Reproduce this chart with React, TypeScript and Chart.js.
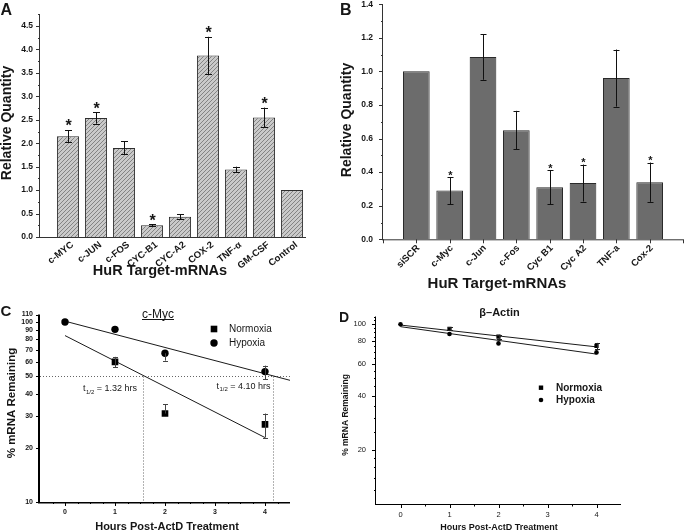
import React, { useEffect, useRef } from "react";
import { Chart, registerables } from "chart.js";

Chart.register(...registerables);

const FONT = "'Liberation Sans', Arial, Helvetica, sans-serif";
const INK = "#161616";

// ---------- Panel A data ----------
const aCategories = ["c-MYC", "c-JUN", "c-FOS", "CYC-B1", "CYC-A2", "COX-2", "TNF-\u03b1", "GM-CSF", "Control"];
const aValues = [2.15, 2.54, 1.9, 0.25, 0.43, 3.87, 1.44, 2.55, 1.0];
const aErrors = [0.13, 0.12, 0.14, 0.02, 0.05, 0.4, 0.06, 0.21, 0];
const aSignificant = [true, true, false, true, false, true, false, true, false];
const aYTicks = [0, 0.5, 1, 1.5, 2, 2.5, 3, 3.5, 4, 4.5];
const aYMinor = [0.25, 0.75, 1.25, 1.75, 2.25, 2.75, 3.25, 3.75, 4.25, 4.75];

// ---------- Panel B data ----------
const bCategories = ["siSCR", "c-Myc", "c-Jun", "c-Fos", "Cyc B1", "Cyc A2", "TNF-a", "Cox-2"];
const bValues = [1.0, 0.29, 1.085, 0.65, 0.31, 0.335, 0.96, 0.34];
const bErrors = [0, 0.08, 0.135, 0.115, 0.1, 0.11, 0.17, 0.117];
const bSignificant = [false, true, false, false, true, true, false, true];
const bYTicks = [0, 0.2, 0.4, 0.6, 0.8, 1.0, 1.2, 1.4];
const bYMinor = [0.1, 0.3, 0.5, 0.7, 0.9, 1.1, 1.3];
const bXTickMarks = [-1, 0, 1, 2, 3, 4, 5, 6, 7, 8];

// ---------- Panel C data ----------
const cNormoxiaHours = [1, 2, 4];
const cNormoxia = [60, 31, 27];
const cNormoxiaErrUp = [4, 4, 4];
const cNormoxiaErrDown = [4, 0, 4.2];
const cHypoxiaHours = [0, 1, 2, 4];
const cHypoxia = [100, 91, 67, 53];
const cHypoxiaErrUp = [0, 0, 0, 4.2];
const cHypoxiaErrDown = [0, 0, 6, 5];
const cNormoxiaFitHours = [0, 4];
const cNormoxiaFit = [84, 22.8];
const cHypoxiaFitHours = [0, 4.5];
const cHypoxiaFit = [101, 47.4];
const cHalfLifeHours = [1.55, 4.15];
const cHalfLifeLabels = ["1.32", "4.10"];
const cYTicks = [10, 20, 30, 40, 50, 60, 70, 80, 90, 100, 110];
const cYMinor = [11, 12, 13, 14, 15, 16, 17, 18, 19, 22, 24, 26, 28, 32, 34, 36, 38, 42, 44, 46, 48, 55, 65, 75, 85, 95, 105];
const cXTicks = [0, 1, 2, 3, 4];
const cXMinor = [-0.25, 0.25, 0.5, 0.75, 1.25, 1.5, 1.75, 2.25, 2.5, 2.75, 3.25, 3.5, 3.75, 4.25];

// ---------- Panel D data ----------
const dNormoxiaHours = [1, 2, 4];
const dNormoxia = [94, 85, 75.5];
const dNormoxiaErr = [2, 2, 3];
const dHypoxiaHours = [0, 1, 2, 4];
const dHypoxia = [99.5, 88, 78, 69.5];
const dNormoxiaFitHours = [0, 4];
const dNormoxiaFit = [98.6, 74.6];
const dHypoxiaFitHours = [0, 4];
const dHypoxiaFit = [96.6, 68];
const dYTicks = [20, 40, 60, 80, 100];
const dYMinor = [12, 14, 16, 18, 25, 30, 35, 45, 50, 55, 65, 70, 75, 85, 90, 95, 105, 110];
const dXTicks = [0, 1, 2, 3, 4];
const dXMinor = [0.5, 1.5, 2.5, 3.5];

type Box = { left: number; top: number; width: number; height: number };

const fixWidth = (w: number) => (s: any) => {
  s.width = w;
  s.paddingTop = 0; s.paddingBottom = 0; s.paddingLeft = 0; s.paddingRight = 0;
};
const fixHeight = (h: number) => (s: any) => {
  s.height = h;
  s.paddingTop = 0; s.paddingBottom = 0; s.paddingLeft = 0; s.paddingRight = 0;
};
const setTicks = (vals: number[]) => (s: any) => {
  s.ticks = vals.map((v) => ({ value: v }));
};

function font(size: number, bold = false) {
  return `${bold ? "bold " : ""}${size}px ${FONT}`;
}

function text(ctx: CanvasRenderingContext2D, s: string, x: number, y: number, f: string, align: CanvasTextAlign = "center", baseline: CanvasTextBaseline = "middle", rot = 0) {
  ctx.save();
  ctx.font = f;
  ctx.fillStyle = INK;
  ctx.textAlign = align;
  ctx.textBaseline = baseline;
  ctx.translate(x, y);
  if (rot) ctx.rotate(rot);
  ctx.fillText(s, 0, 0);
  ctx.restore();
}

function rotatedCategoryLabels(ctx: CanvasRenderingContext2D, chart: any, labels: string[], f: string, dx: number, dy: number, deg: number) {
  const xs = chart.scales.x;
  const y = chart.chartArea.bottom + dy;
  labels.forEach((lab, i) => {
    text(ctx, lab, xs.getPixelForValue(i) + dx, y, f, "right", "top", (-deg * Math.PI) / 180);
  });
}

function axesLines(ctx: CanvasRenderingContext2D, chart: any, wy: number, wx: number, color = "#222") {
  const { left, right, top, bottom } = chart.chartArea;
  ctx.save();
  ctx.strokeStyle = color;
  ctx.lineWidth = wy;
  ctx.beginPath();
  ctx.moveTo(left - wy / 2, top);
  ctx.lineTo(left - wy / 2, bottom + wx / 2);
  ctx.stroke();
  ctx.lineWidth = wx;
  ctx.beginPath();
  ctx.moveTo(left - wy, bottom + wx / 2);
  ctx.lineTo(right, bottom + wx / 2);
  ctx.stroke();
  ctx.restore();
}

function yMarks(ctx: CanvasRenderingContext2D, chart: any, vals: number[], len: number, color = "#222") {
  const ys = chart.scales.y;
  const x = chart.chartArea.left;
  ctx.save();
  ctx.strokeStyle = color;
  ctx.lineWidth = 1;
  ctx.beginPath();
  for (const v of vals) {
    const y = Math.round(ys.getPixelForValue(v)) + 0.5;
    ctx.moveTo(x, y);
    ctx.lineTo(x - len, y);
  }
  ctx.stroke();
  ctx.restore();
}

function xMarks(ctx: CanvasRenderingContext2D, chart: any, vals: number[], len: number, color = "#222") {
  const xs = chart.scales.x;
  const y = chart.chartArea.bottom;
  ctx.save();
  ctx.strokeStyle = color;
  ctx.lineWidth = 1;
  ctx.beginPath();
  for (const v of vals) {
    const x = Math.round(xs.getPixelForValue(v)) + 0.5;
    ctx.moveTo(x, y);
    ctx.lineTo(x, y + len);
  }
  ctx.stroke();
  ctx.restore();
}

function errorBar(ctx: CanvasRenderingContext2D, x: number, yTop: number, yBot: number, capTop: boolean, capBot: boolean, cap: number, color = "#111") {
  ctx.save();
  ctx.strokeStyle = color;
  ctx.lineWidth = 1;
  const xx = Math.round(x) + 0.5;
  ctx.beginPath();
  ctx.moveTo(xx, yTop);
  ctx.lineTo(xx, yBot);
  if (capTop) {
    const y = Math.round(yTop) + 0.5;
    ctx.moveTo(xx - cap / 2, y);
    ctx.lineTo(xx + cap / 2, y);
  }
  if (capBot) {
    const y = Math.round(yBot) + 0.5;
    ctx.moveTo(xx - cap / 2, y);
    ctx.lineTo(xx + cap / 2, y);
  }
  ctx.stroke();
  ctx.restore();
}

function makeHatch(): any {
  const c = document.createElement("canvas");
  c.width = 4;
  c.height = 4;
  const g = c.getContext("2d")!;
  g.fillStyle = "#cacaca";
  g.fillRect(0, 0, 4, 4);
  g.strokeStyle = "#7c7c7c";
  g.lineWidth = 0.9;
  g.beginPath();
  g.moveTo(0, 4); g.lineTo(4, 0);
  g.moveTo(-1, 1); g.lineTo(1, -1);
  g.moveTo(3, 5); g.lineTo(5, 3);
  g.stroke();
  return g.createPattern(c, "repeat");
}

function ChartCanvas({ box, make }: { box: Box; make: () => any }) {
  const ref = useRef<HTMLCanvasElement>(null);
  useEffect(() => {
    const chart = new Chart(ref.current as HTMLCanvasElement, make());
    return () => chart.destroy();
  }, []);
  return (
    <canvas
      ref={ref}
      width={box.width}
      height={box.height}
      style={{ position: "absolute", left: box.left, top: box.top, width: box.width, height: box.height }}
    />
  );
}

const baseOpts = {
  animation: false,
  responsive: false,
  maintainAspectRatio: false,
  events: [],
  plugins: { legend: { display: false }, tooltip: { enabled: false } },
};

// ---------- Panel A ----------
const A_BOX: Box = { left: 0, top: 0, width: 340, height: 292 };
function configA() {
  const L = 40, T = 14.3, R = 306, B = 237;
  return {
    type: "bar",
    data: {
      datasets: [
        {
          data: aValues.map((v, i) => ({ x: i, y: v })),
          backgroundColor: makeHatch(),
          borderColor: "#2e2e2e",
          borderWidth: 1,
          barPercentage: 0.79,
          categoryPercentage: 1,
        },
      ],
    },
    options: {
      ...baseOpts,
      layout: { padding: { left: 0, top: T, right: A_BOX.width - R, bottom: 0 } },
      scales: {
        x: {
          type: "linear", bounds: "data", min: -1, max: 8.5, offset: false,
          grid: { display: false, drawTicks: false, offset: false }, border: { display: false },
          afterBuildTicks: setTicks(aCategories.map((_, i) => i)),
          afterFit: fixHeight(A_BOX.height - B),
          ticks: { display: false },
        },
        y: {
          type: "linear", bounds: "data", min: 0, max: 4.75,
          grid: { display: false, drawTicks: false }, border: { display: false },
          afterBuildTicks: setTicks(aYTicks),
          afterFit: fixWidth(L),
          ticks: { padding: 7, color: INK, font: { family: FONT, size: 8.5, weight: "bold" }, callback: (v: number) => v.toFixed(1) },
        },
      },
    },
    plugins: [
      {
        id: "annA",
        afterDraw(chart: any) {
          const ctx = chart.ctx as CanvasRenderingContext2D;
          const xs = chart.scales.x, ys = chart.scales.y;
          aValues.forEach((v, i) => {
            const e = aErrors[i];
            const x = xs.getPixelForValue(i);
            if (e > 0) errorBar(ctx, x, ys.getPixelForValue(v + e), ys.getPixelForValue(v - e), true, true, 7);
            if (aSignificant[i]) {
              const yTop = ys.getPixelForValue(v + e);
              text(ctx, "*", Math.round(x) + 0.5, yTop - 8 + 9.3, font(16, true), "center", "alphabetic");
            }
          });
          axesLines(ctx, chart, 1, 1, "#333");
          yMarks(ctx, chart, aYTicks, 4, "#333");
          yMarks(ctx, chart, aYMinor, 2, "#333");
          rotatedCategoryLabels(ctx, chart, aCategories, font(9.5, true), 1.5, 3, 38);
          text(ctx, "Relative Quantity", 7.5, 123, font(14, true), "center", "middle", -Math.PI / 2);
          text(ctx, "HuR Target-mRNAs", 160, 271, font(14.5, true));
          text(ctx, "A", 0.5, 14.5, font(16, true), "left", "alphabetic");
        },
      },
    ],
  };
}

// ---------- Panel B ----------
const B_BOX: Box = { left: 340, top: 0, width: 345, height: 296 };
function configB() {
  const L = 43, T = 4.2, R = 343, B = 239.3;
  return {
    type: "bar",
    data: {
      datasets: [
        {
          data: bValues.map((v, i) => ({ x: i, y: v })),
          backgroundColor: "#6c6c6c",
          borderColor: "#2a2a2a",
          borderWidth: 1,
          barPercentage: 0.8,
          categoryPercentage: 1,
        },
      ],
    },
    options: {
      ...baseOpts,
      layout: { padding: { left: 0, top: T, right: B_BOX.width - R, bottom: 0 } },
      scales: {
        x: {
          type: "linear", bounds: "data", min: -1, max: 8, offset: false,
          grid: { display: false, drawTicks: false, offset: false }, border: { display: false },
          afterBuildTicks: setTicks(bCategories.map((_, i) => i)),
          afterFit: fixHeight(B_BOX.height - B),
          ticks: { display: false },
        },
        y: {
          type: "linear", bounds: "data", min: 0, max: 1.4,
          grid: { display: false, drawTicks: false }, border: { display: false },
          afterBuildTicks: setTicks(bYTicks),
          afterFit: fixWidth(L),
          ticks: { padding: 10, color: INK, font: { family: FONT, size: 8.5, weight: "bold" }, callback: (v: number) => v.toFixed(1) },
        },
      },
    },
    plugins: [
      {
        id: "annB",
        afterDraw(chart: any) {
          const ctx = chart.ctx as CanvasRenderingContext2D;
          const xs = chart.scales.x, ys = chart.scales.y;
          bValues.forEach((v, i) => {
            const e = bErrors[i];
            const x = xs.getPixelForValue(i);
            if (e > 0) errorBar(ctx, x, ys.getPixelForValue(v + e), ys.getPixelForValue(v - e), true, true, 6);
            if (bSignificant[i]) {
              const yTop = ys.getPixelForValue(v + e);
              text(ctx, "*", Math.round(x) + 0.5, yTop - 5 + 6.4, font(11, true), "center", "alphabetic");
            }
          });
          axesLines(ctx, chart, 1, 1, "#333");
          yMarks(ctx, chart, bYTicks, 4, "#333");
          yMarks(ctx, chart, bYMinor, 2, "#333");
          xMarks(ctx, chart, bXTickMarks, 4, "#333");
          rotatedCategoryLabels(ctx, chart, bCategories, font(9.5, true), -1.5, 4, 45);
          text(ctx, "Relative Quantity", 7, 120, font(14, true), "center", "middle", -Math.PI / 2);
          text(ctx, "HuR Target-mRNAs", 157, 284, font(15, true));
          text(ctx, "B", 0, 14.5, font(16, true), "left", "alphabetic");
        },
      },
    ],
  };
}

// ---------- Panel C ----------
const C_BOX: Box = { left: 0, top: 300, width: 340, height: 231 };
function halfLifeText(ctx: CanvasRenderingContext2D, x: number, y: number, value: string) {
  ctx.save();
  ctx.fillStyle = INK;
  ctx.textAlign = "left";
  ctx.textBaseline = "alphabetic";
  ctx.font = font(9);
  ctx.fillText("t", x, y);
  const w = ctx.measureText("t").width;
  ctx.font = font(6);
  ctx.fillText("1/2", x + w + 0.5, y + 2.5);
  const w2 = ctx.measureText("1/2").width;
  ctx.font = font(9);
  ctx.fillText(" = " + value + " hrs", x + w + 0.5 + w2, y);
  ctx.restore();
}

function configC() {
  const L = 40, T = 14.5, R = 290, B = 202;
  return {
    type: "scatter",
    data: {
      datasets: [
        {
          data: cHypoxiaHours.map((h, i) => ({ x: h, y: cHypoxia[i] })),
          pointStyle: "circle", pointRadius: 3.7, backgroundColor: "#000", borderColor: "#000", borderWidth: 0,
        },
        {
          data: cNormoxiaHours.map((h, i) => ({ x: h, y: cNormoxia[i] })),
          pointStyle: "rect", pointRadius: 4.7, backgroundColor: "#000", borderColor: "#000", borderWidth: 0,
        },
        {
          data: cHypoxiaFitHours.map((h, i) => ({ x: h, y: cHypoxiaFit[i] })),
          showLine: true, pointRadius: 0, borderColor: "#1a1a1a", borderWidth: 1,
        },
        {
          data: cNormoxiaFitHours.map((h, i) => ({ x: h, y: cNormoxiaFit[i] })),
          showLine: true, pointRadius: 0, borderColor: "#1a1a1a", borderWidth: 1,
        },
      ],
    },
    options: {
      ...baseOpts,
      layout: { padding: { left: 0, top: T, right: C_BOX.width - R, bottom: 0 } },
      scales: {
        x: {
          type: "linear", bounds: "data", min: -0.5, max: 4.5,
          grid: { display: false, drawTicks: false }, border: { display: false },
          afterBuildTicks: setTicks(cXTicks),
          afterFit: fixHeight(C_BOX.height - B),
          ticks: { padding: 6, color: INK, font: { family: FONT, size: 7, weight: "bold" }, callback: (v: number) => String(v) },
        },
        y: {
          type: "logarithmic", bounds: "data", min: 10, max: 110,
          grid: { display: false, drawTicks: false }, border: { display: false },
          afterBuildTicks: setTicks(cYTicks),
          afterFit: fixWidth(L),
          ticks: { padding: 7, color: INK, font: { family: FONT, size: 7, weight: "bold" }, callback: (v: number) => String(v) },
        },
      },
    },
    plugins: [
      {
        id: "annC",
        beforeDatasetsDraw(chart: any) {
          const ctx = chart.ctx as CanvasRenderingContext2D;
          const xs = chart.scales.x, ys = chart.scales.y;
          const { left, right } = chart.chartArea;
          ctx.save();
          ctx.strokeStyle = "#666";
          ctx.lineWidth = 1;
          ctx.setLineDash([1, 2]);
          const y50 = Math.round(ys.getPixelForValue(50)) + 0.5;
          ctx.beginPath();
          ctx.moveTo(left, y50);
          ctx.lineTo(right, y50);
          for (const h of cHalfLifeHours) {
            const x = Math.round(xs.getPixelForValue(h)) + 0.5;
            ctx.moveTo(x, y50);
            ctx.lineTo(x, ys.getPixelForValue(10));
          }
          ctx.stroke();
          ctx.restore();
        },
        afterDraw(chart: any) {
          const ctx = chart.ctx as CanvasRenderingContext2D;
          const xs = chart.scales.x, ys = chart.scales.y;
          cNormoxiaHours.forEach((h, i) => {
            const v = cNormoxia[i];
            const up = cNormoxiaErrUp[i], dn = cNormoxiaErrDown[i];
            if (up > 0 || dn > 0)
              errorBar(ctx, xs.getPixelForValue(h), ys.getPixelForValue(v + up), ys.getPixelForValue(v - dn), up > 0, dn > 0, 5, "#444");
          });
          cHypoxiaHours.forEach((h, i) => {
            const v = cHypoxia[i];
            const up = cHypoxiaErrUp[i], dn = cHypoxiaErrDown[i];
            if (up > 0 || dn > 0)
              errorBar(ctx, xs.getPixelForValue(h), ys.getPixelForValue(v + up), ys.getPixelForValue(v - dn), up > 0, dn > 0, 5, "#444");
          });
          axesLines(ctx, chart, 2, 1.5, "#000");
          yMarks(ctx, chart, cYTicks, 4, "#000");
          yMarks(ctx, chart, cYMinor, 2, "#000");
          xMarks(ctx, chart, cXTicks, 4, "#000");
          xMarks(ctx, chart, cXMinor, 2, "#000");
          halfLifeText(ctx, 83, 91, cHalfLifeLabels[0]);
          halfLifeText(ctx, 216.5, 88.5, cHalfLifeLabels[1]);
          text(ctx, "c-Myc", 158, 15, font(12));
          ctx.save();
          ctx.font = font(12);
          const tw = ctx.measureText("c-Myc").width;
          ctx.strokeStyle = INK;
          ctx.lineWidth = 1;
          ctx.beginPath();
          ctx.moveTo(158 - tw / 2, 19.5);
          ctx.lineTo(158 + tw / 2, 19.5);
          ctx.stroke();
          ctx.restore();
          ctx.save();
          ctx.fillStyle = "#000";
          ctx.fillRect(214 - 3.3, 29 - 3.3, 6.6, 6.6);
          ctx.beginPath();
          ctx.arc(214, 43, 3.7, 0, Math.PI * 2);
          ctx.fill();
          ctx.restore();
          text(ctx, "Normoxia", 229, 29.5, font(10), "left");
          text(ctx, "Hypoxia", 229, 43.5, font(10), "left");
          text(ctx, "% mRNA Remaining", 12, 103, font(11.5, true), "center", "middle", -Math.PI / 2);
          text(ctx, "Hours Post-ActD Treatment", 167, 226.5, font(11, true));
          text(ctx, "C", 0.5, 15.5, font(15, true), "left", "alphabetic");
        },
      },
    ],
  };
}

// ---------- Panel D ----------
const D_BOX: Box = { left: 340, top: 300, width: 345, height: 231 };
function configD() {
  const L = 36, T = 16.5, R = 281, B = 204;
  return {
    type: "scatter",
    data: {
      datasets: [
        {
          data: dHypoxiaHours.map((h, i) => ({ x: h, y: dHypoxia[i] })),
          pointStyle: "circle", pointRadius: 2.3, backgroundColor: "#000", borderColor: "#000", borderWidth: 0,
        },
        {
          data: dNormoxiaHours.map((h, i) => ({ x: h, y: dNormoxia[i] })),
          pointStyle: "rect", pointRadius: 3, backgroundColor: "#000", borderColor: "#000", borderWidth: 0,
        },
        {
          data: dNormoxiaFitHours.map((h, i) => ({ x: h, y: dNormoxiaFit[i] })),
          showLine: true, pointRadius: 0, borderColor: "#1a1a1a", borderWidth: 1,
        },
        {
          data: dHypoxiaFitHours.map((h, i) => ({ x: h, y: dHypoxiaFit[i] })),
          showLine: true, pointRadius: 0, borderColor: "#1a1a1a", borderWidth: 1,
        },
      ],
    },
    options: {
      ...baseOpts,
      layout: { padding: { left: 0, top: T, right: D_BOX.width - R, bottom: 0 } },
      scales: {
        x: {
          type: "linear", bounds: "data", min: -0.5, max: 4.5,
          grid: { display: false, drawTicks: false }, border: { display: false },
          afterBuildTicks: setTicks(dXTicks),
          afterFit: fixHeight(D_BOX.height - B),
          ticks: { padding: 6, color: INK, font: { family: FONT, size: 7.5 }, callback: (v: number) => String(v) },
        },
        y: {
          type: "logarithmic", bounds: "data", min: 10, max: 110,
          grid: { display: false, drawTicks: false }, border: { display: false },
          afterBuildTicks: setTicks(dYTicks),
          afterFit: fixWidth(L),
          ticks: { padding: 10, color: INK, font: { family: FONT, size: 7.5 }, callback: (v: number) => String(v) },
        },
      },
    },
    plugins: [
      {
        id: "annD",
        afterDraw(chart: any) {
          const ctx = chart.ctx as CanvasRenderingContext2D;
          const xs = chart.scales.x, ys = chart.scales.y;
          dNormoxiaHours.forEach((h, i) => {
            const v = dNormoxia[i], e = dNormoxiaErr[i];
            errorBar(ctx, xs.getPixelForValue(h), ys.getPixelForValue(v + e), ys.getPixelForValue(v - e), true, true, 5, "#222");
          });
          axesLines(ctx, chart, 1, 1, "#000");
          yMarks(ctx, chart, dYTicks, 4, "#000");
          yMarks(ctx, chart, dYMinor, 2, "#000");
          xMarks(ctx, chart, dXTicks, 4, "#000");
          xMarks(ctx, chart, dXMinor, 2.5, "#000");
          text(ctx, "\u03b2\u2013Actin", 159.5, 13, font(11, true));
          ctx.save();
          ctx.fillStyle = "#000";
          ctx.fillRect(201 - 2.2, 87.7 - 2.2, 4.4, 4.4);
          ctx.beginPath();
          ctx.arc(201, 100, 2.3, 0, Math.PI * 2);
          ctx.fill();
          ctx.restore();
          text(ctx, "Normoxia", 216, 88, font(10, true), "left");
          text(ctx, "Hypoxia", 216, 100.5, font(10, true), "left");
          text(ctx, "% mRNA Remaining", 6, 115, font(8.5, true), "center", "middle", -Math.PI / 2);
          text(ctx, "Hours Post-ActD Treatment", 159, 228, font(9, true));
          text(ctx, "D", -1, 22, font(14, true), "left", "alphabetic");
        },
      },
    ],
  };
}

export default function App() {
  return (
    <div style={{ position: "absolute", left: 0, top: 0, width: 685, height: 531, background: "#fff", overflow: "hidden" }}>
      <ChartCanvas box={A_BOX} make={configA} />
      <ChartCanvas box={B_BOX} make={configB} />
      <ChartCanvas box={C_BOX} make={configC} />
      <ChartCanvas box={D_BOX} make={configD} />
    </div>
  );
}
